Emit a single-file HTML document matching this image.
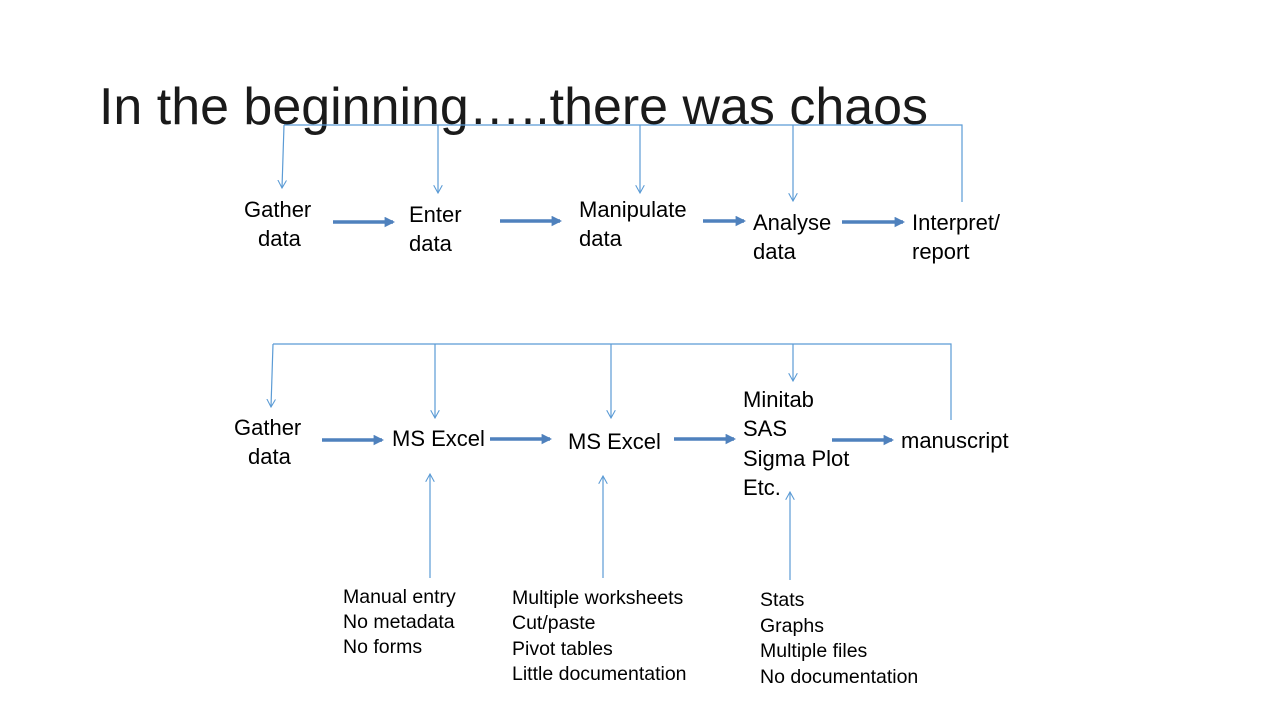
<!DOCTYPE html>
<html><head><meta charset="utf-8"><style>
html,body{margin:0;padding:0;background:#fff;}
svg{display:block;}
text{font-family:"Liberation Sans",sans-serif;fill:#000;}
.l{font-size:22px;}
.n{font-size:19.5px;}
</style></head><body>
<svg width="1280" height="720" viewBox="0 0 1280 720" xmlns="http://www.w3.org/2000/svg">
<defs>
<marker id="open" viewBox="0 0 10 10" refX="9" refY="5" markerWidth="9" markerHeight="9" markerUnits="userSpaceOnUse" orient="auto">
<path d="M0,0 L9,5 L0,10" fill="none" stroke="#5b9bd5" stroke-width="1.2"/></marker>
<marker id="tri" viewBox="0 0 10 10" refX="8" refY="5" markerWidth="3" markerHeight="3" orient="auto">
<path d="M0,0 L10,5 L0,10 z" fill="#4f81bd"/></marker>
</defs>
<text x="99" y="124" font-size="52" textLength="829" lengthAdjust="spacingAndGlyphs" style="fill:#1a1a1a">In the beginning…..there was chaos</text>

<g stroke="#5b9bd5" stroke-width="1.2" fill="none">
<polyline points="284,125 962,125 962,202"/>
<line x1="284" y1="125" x2="282" y2="188" marker-end="url(#open)"/>
<line x1="438" y1="125" x2="438" y2="193" marker-end="url(#open)"/>
<line x1="640" y1="125" x2="640" y2="193" marker-end="url(#open)"/>
<line x1="793" y1="125" x2="793" y2="201" marker-end="url(#open)"/>

<polyline points="273,344 951,344 951,420"/>
<line x1="273" y1="344" x2="271" y2="407" marker-end="url(#open)"/>
<line x1="435" y1="344" x2="435" y2="418" marker-end="url(#open)"/>
<line x1="611" y1="344" x2="611" y2="418" marker-end="url(#open)"/>
<line x1="793" y1="344" x2="793" y2="381" marker-end="url(#open)"/>

<line x1="430" y1="578" x2="430" y2="474" marker-end="url(#open)"/>
<line x1="603" y1="578" x2="603" y2="476" marker-end="url(#open)"/>
<line x1="790" y1="580" x2="790" y2="492" marker-end="url(#open)"/>
</g>

<g stroke="#4f81bd" stroke-width="3.5" marker-end="url(#tri)">
<line x1="333" y1="222" x2="393" y2="222"/>
<line x1="500" y1="221" x2="560" y2="221"/>
<line x1="703" y1="221" x2="744" y2="221"/>
<line x1="842" y1="222" x2="903" y2="222"/>
<line x1="322" y1="440" x2="382" y2="440"/>
<line x1="490" y1="439" x2="550" y2="439"/>
<line x1="674" y1="439" x2="734" y2="439"/>
<line x1="832" y1="440" x2="892" y2="440"/>
</g>

<g class="l">
<text x="244" y="217">Gather</text><text x="258" y="246">data</text>
<text x="409" y="222">Enter</text><text x="409" y="251">data</text>
<text x="579" y="217">Manipulate</text><text x="579" y="246">data</text>
<text x="753" y="230">Analyse</text><text x="753" y="259">data</text>
<text x="912" y="230">Interpret/</text><text x="912" y="259">report</text>

<text x="234" y="435">Gather</text><text x="248" y="464">data</text>
<text x="392" y="446">MS Excel</text>
<text x="568" y="449">MS Excel</text>
<text x="743" y="407">Minitab</text>
<text x="743" y="436">SAS</text>
<text x="743" y="466">Sigma Plot</text>
<text x="743" y="495">Etc.</text>
<text x="901" y="448">manuscript</text>
</g>

<g class="n">
<text x="343" y="603">Manual entry</text>
<text x="343" y="628">No metadata</text>
<text x="343" y="653">No forms</text>
<text x="512" y="604">Multiple worksheets</text>
<text x="512" y="629">Cut/paste</text>
<text x="512" y="655">Pivot tables</text>
<text x="512" y="680">Little documentation</text>
<text x="760" y="606">Stats</text>
<text x="760" y="632">Graphs</text>
<text x="760" y="657">Multiple files</text>
<text x="760" y="683">No documentation</text>
</g>
</svg>
</body></html>
